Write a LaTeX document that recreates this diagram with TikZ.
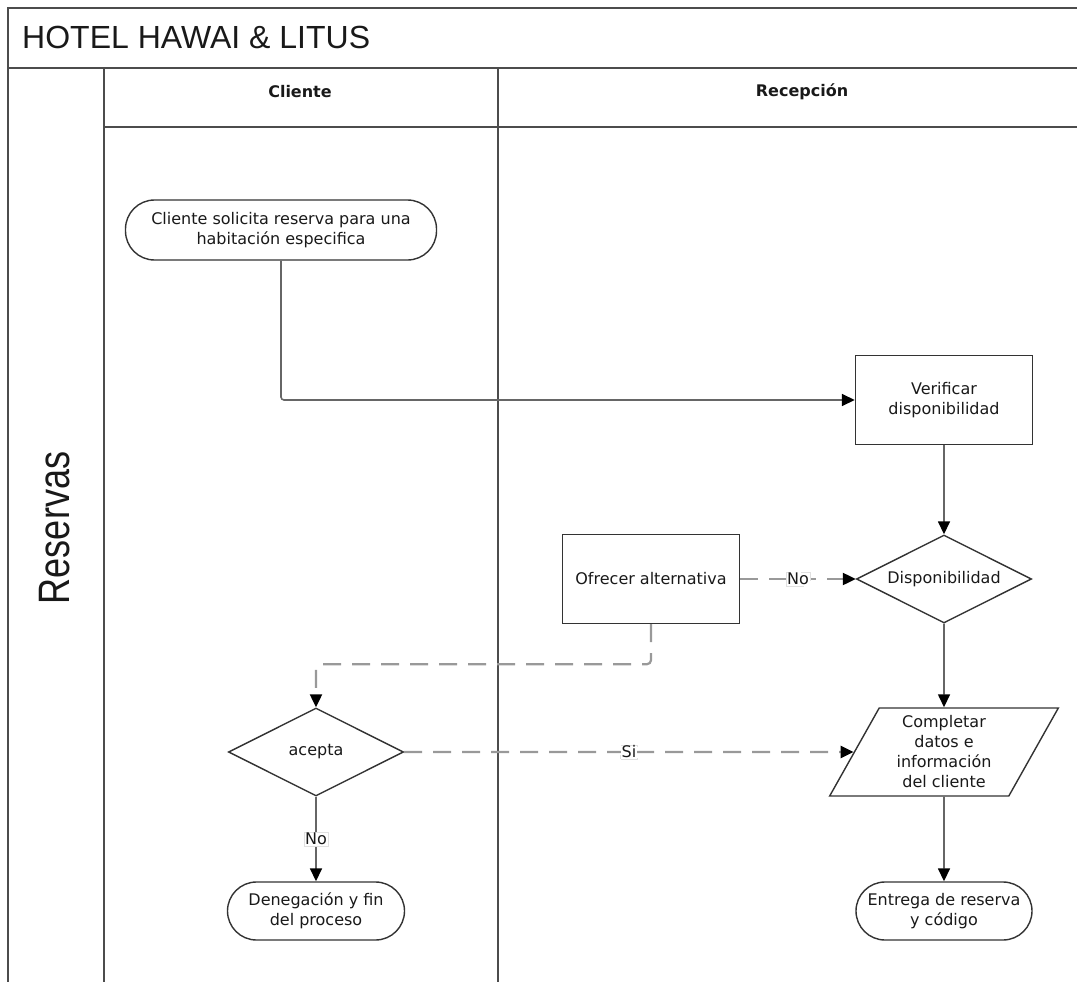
\documentclass[tikz,border=0pt]{standalone}
\usepackage{fontspec}
\setmainfont{DejaVu Sans}
\newfontfamily\titlefont{Liberation Sans}
\usetikzlibrary{arrows.meta,shapes.geometric}

\begin{document}
\begin{tikzpicture}[x=1pt,y=-1pt,
  every node/.style={font=\fontsize{16}{20}\selectfont, align=center, text=black!90},
  frameline/.style={draw=black!70, line width=1.6pt},
  box/.style={draw=black!80, line width=1.4pt, fill=white,
    minimum width=177pt, minimum height=89pt, inner sep=2pt},
  term/.style={draw=black!80, line width=1.4pt, fill=white, rounded corners=29pt,
    minimum width=177pt, minimum height=58pt, inner sep=2pt},
  decision/.style={diamond, aspect=2, draw=black!80, line width=1.4pt, fill=white,
    minimum width=175pt, minimum height=88pt, inner sep=0pt},
  iobox/.style={trapezium, trapezium left angle=63.4, trapezium right angle=116.6,
    trapezium stretches=true, draw=black!80, line width=1.4pt, fill=white,
    minimum width=229pt, minimum height=88pt, inner sep=0pt},
  tip/.style={-{Triangle[length=13pt,width=12pt,color=black]}},
  flow/.style={draw=black!60, line width=1.6pt, tip},
  altflow/.style={draw=black!40, line width=2.2pt, dash pattern=on 18pt off 11pt, tip},
  tag/.style={fill=white, draw=black!12, line width=0.5pt, inner sep=1pt}
]
\useasboundingbox (0,0) rectangle (1077,982);

% pool and lane frame
\draw[frameline] (8,982) -- (8,8) -- (1077,8);
\draw[frameline] (8,68) -- (1077,68);
\draw[frameline] (104,68) -- (104,982);
\draw[frameline] (104,127) -- (1077,127);
\draw[frameline] (498,68) -- (498,982);

\node[anchor=west, inner sep=0pt, font=\titlefont\fontsize{32}{36}\selectfont]
  (title) at (22,37) {HOTEL HAWAI \& LITUS};
\node[rotate=90, inner sep=0pt, font=\titlefont\fontsize{44}{48}\selectfont]
  (pool) at (55,528) {\scalebox{0.82}[1]{Reservas}};
\node[font=\bfseries\fontsize{16}{20}\selectfont] (laneA) at (300,92) {Cliente};
\node[font=\bfseries\fontsize{16}{20}\selectfont] (laneB) at (802,92) {Recepción};

% process steps
\node[term, minimum width=311pt, minimum height=60pt] (ask) at (281,230)
  {Cliente solicita reserva para una\\habitación especifica};
\node[box] (verify) at (944,400) {Verificar\\disponibilidad};
\node[decision] (avail) at (944,579) {Disponibilidad};
\node[box] (offer) at (651,579) {Ofrecer alternativa};
\node[iobox] (fill) at (944,752) {Completar\\datos e\\información\\del cliente};
\node[term, minimum width=176pt] (deliver) at (944,911) {Entrega de reserva\\y código};
\node[decision] (accept) at (316,752) {acepta};
\node[term] (deny) at (316,911) {Denegación y fin\\del proceso};

% connectors
\draw[flow, rounded corners=3pt] (ask.south) |- (verify.west);
\draw[flow] (verify.south) -- (avail.north);
\draw[flow] (avail.south) -- (fill.north);
\draw[flow] (fill.south) -- (deliver.north);
\draw[altflow] (offer.east) -- node[tag] {No} (avail.west);
\draw[altflow, rounded corners=4pt] (offer.south) -- ++(0,40) -| (accept.north);
\draw[altflow] (accept.east) -- node[tag] {Si} (fill.west);
\draw[flow] (accept.south) -- node[tag] {No} (deny.north);
\end{tikzpicture}
\end{document}
